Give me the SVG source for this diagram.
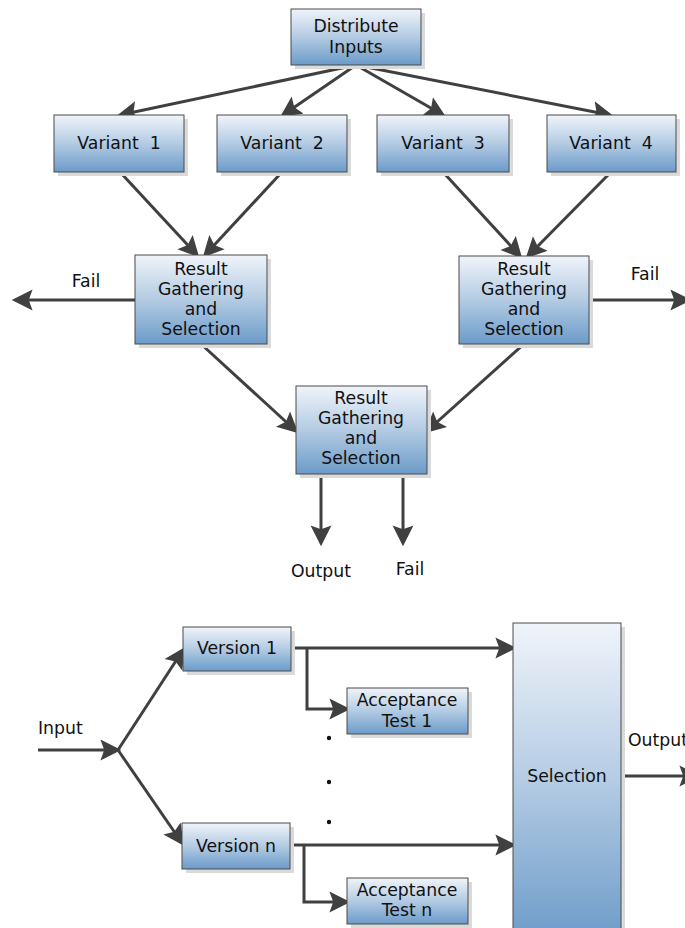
<svg xmlns="http://www.w3.org/2000/svg" width="685" height="928" viewBox="0 0 685 928">
  <defs>
    <linearGradient id="boxFill" x1="0" y1="0" x2="0" y2="1">
      <stop offset="0" stop-color="#F0F4FA"/>
      <stop offset="0.5" stop-color="#B3CBE3"/>
      <stop offset="1" stop-color="#6B9BC9"/>
    </linearGradient>
    <marker id="arrow" markerUnits="userSpaceOnUse" markerWidth="22" markerHeight="22" viewBox="0 -10 20 20" refX="16" refY="0" orient="auto">
      <path d="M0,-9.5 L19,0 L0,9.5 L3.5,0 Z" fill="#404040"/>
    </marker>
    <style>
      .box { fill: url(#boxFill); stroke: #4A4A4A; stroke-width: 1; }
      .shadow { fill: #DADADA; }
      .lbl { font-family: "DejaVu Sans", Verdana, sans-serif; font-size: 17.3px; fill: #111; text-anchor: middle; }
      .free { font-family: "DejaVu Sans", Verdana, sans-serif; font-size: 17.3px; fill: #111; }
      .wire { fill: none; stroke: #404040; stroke-width: 3; }
      .arr { marker-end: url(#arrow); }
    </style>
  </defs>

  <!-- connectors -->
  <g id="connectors">
    <!-- distribution to variants -->
    <path class="wire arr" d="M356,65 L120,115"/>
    <path class="wire arr" d="M356,65 L283,115"/>
    <path class="wire arr" d="M356,65 L443,115"/>
    <path class="wire arr" d="M356,65 L610,115"/>
    <!-- variants to first-stage selection -->
    <path class="wire arr" d="M120,172 L197,255"/>
    <path class="wire arr" d="M282,172 L205,255"/>
    <path class="wire arr" d="M443,172 L520,256"/>
    <path class="wire arr" d="M611,172 L528,256"/>
    <!-- fail exits -->
    <path class="wire arr" d="M135,300 L15,300"/>
    <path class="wire arr" d="M589,300 L688,300"/>
    <!-- first stage to final selection -->
    <path class="wire arr" d="M201,344 L296,431"/>
    <path class="wire arr" d="M524,344 L427,431"/>
    <!-- final outputs -->
    <path class="wire arr" d="M321,474 L321,543"/>
    <path class="wire arr" d="M403,474 L403,543"/>

    <!-- lower scheme -->
    <path class="wire arr" d="M38,750 L118,750"/>
    <path class="wire arr" d="M118,750 L183,650"/>
    <path class="wire arr" d="M118,750 L182,843"/>
    <path class="wire arr" d="M291,648 L513,648"/>
    <path class="wire arr" d="M307,648 L307,709 L347,709"/>
    <path class="wire arr" d="M290,845 L513,845"/>
    <path class="wire arr" d="M304,845 L304,902 L347,902"/>
    <path class="wire arr" d="M621,776 L697,776"/>
  </g>

  <!-- nodes -->
  <g id="distribute">
    <rect class="shadow" x="295" y="13" width="130" height="56"/>
    <rect class="box" x="291" y="9" width="130" height="56"/>
    <text class="lbl" x="356" y="32">Distribute</text>
    <text class="lbl" x="356" y="53">Inputs</text>
  </g>
  <g id="variant1">
    <rect class="shadow" x="58" y="119" width="130" height="57"/>
    <rect class="box" x="54" y="115" width="130" height="57"/>
    <text class="lbl" x="119" y="149" xml:space="preserve">Variant  1</text>
  </g>
  <g id="variant2">
    <rect class="shadow" x="221" y="119" width="130" height="57"/>
    <rect class="box" x="217" y="115" width="130" height="57"/>
    <text class="lbl" x="282" y="149" xml:space="preserve">Variant  2</text>
  </g>
  <g id="variant3">
    <rect class="shadow" x="381" y="119" width="132" height="57"/>
    <rect class="box" x="377" y="115" width="132" height="57"/>
    <text class="lbl" x="443" y="149" xml:space="preserve">Variant  3</text>
  </g>
  <g id="variant4">
    <rect class="shadow" x="551" y="119" width="129" height="57"/>
    <rect class="box" x="547" y="115" width="129" height="57"/>
    <text class="lbl" x="611" y="149" xml:space="preserve">Variant  4</text>
  </g>
  <g id="select-left">
    <rect class="shadow" x="139" y="259" width="132" height="89"/>
    <rect class="box" x="135" y="255" width="132" height="89"/>
    <text class="lbl" x="201" y="275">Result</text>
    <text class="lbl" x="201" y="295">Gathering</text>
    <text class="lbl" x="201" y="315">and</text>
    <text class="lbl" x="201" y="335">Selection</text>
  </g>
  <g id="select-right">
    <rect class="shadow" x="463" y="260" width="130" height="88"/>
    <rect class="box" x="459" y="256" width="130" height="88"/>
    <text class="lbl" x="524" y="275">Result</text>
    <text class="lbl" x="524" y="295">Gathering</text>
    <text class="lbl" x="524" y="315">and</text>
    <text class="lbl" x="524" y="335">Selection</text>
  </g>
  <g id="select-final">
    <rect class="shadow" x="300" y="390" width="131" height="88"/>
    <rect class="box" x="296" y="386" width="131" height="88"/>
    <text class="lbl" x="361" y="404">Result</text>
    <text class="lbl" x="361" y="424">Gathering</text>
    <text class="lbl" x="361" y="444">and</text>
    <text class="lbl" x="361" y="464">Selection</text>
  </g>

  <!-- free labels, upper scheme -->
  <text class="lbl" x="86" y="287">Fail</text>
  <text class="lbl" x="645" y="280">Fail</text>
  <text class="lbl" x="321" y="577">Output</text>
  <text class="lbl" x="410" y="575">Fail</text>

  <!-- lower scheme nodes -->
  <g id="version1">
    <rect class="shadow" x="187" y="631" width="108" height="44"/>
    <rect class="box" x="183" y="627" width="108" height="44"/>
    <text class="lbl" x="237" y="654">Version 1</text>
  </g>
  <g id="versionN">
    <rect class="shadow" x="186" y="827" width="108" height="46"/>
    <rect class="box" x="182" y="823" width="108" height="46"/>
    <text class="lbl" x="236" y="852">Version n</text>
  </g>
  <g id="accept1">
    <rect class="shadow" x="351" y="692" width="121" height="46"/>
    <rect class="box" x="347" y="688" width="121" height="46"/>
    <text class="lbl" x="407" y="706">Acceptance</text>
    <text class="lbl" x="407" y="727">Test 1</text>
  </g>
  <g id="acceptN">
    <rect class="shadow" x="351" y="882" width="121" height="46"/>
    <rect class="box" x="347" y="878" width="121" height="46"/>
    <text class="lbl" x="407" y="896">Acceptance</text>
    <text class="lbl" x="407" y="916">Test n</text>
  </g>
  <g id="selection">
    <rect class="shadow" x="517" y="627" width="108" height="320"/>
    <rect class="box" x="513" y="623" width="108" height="320"/>
    <text class="lbl" x="567" y="782">Selection</text>
  </g>

  <!-- free labels, lower scheme -->
  <text class="free" x="38" y="734">Input</text>
  <text class="free" x="628" y="746">Output</text>
  <g id="ellipsis" fill="#111">
    <circle cx="329" cy="738" r="2.2"/>
    <circle cx="329" cy="782" r="2.2"/>
    <circle cx="329" cy="822" r="2.2"/>
  </g>
</svg>
